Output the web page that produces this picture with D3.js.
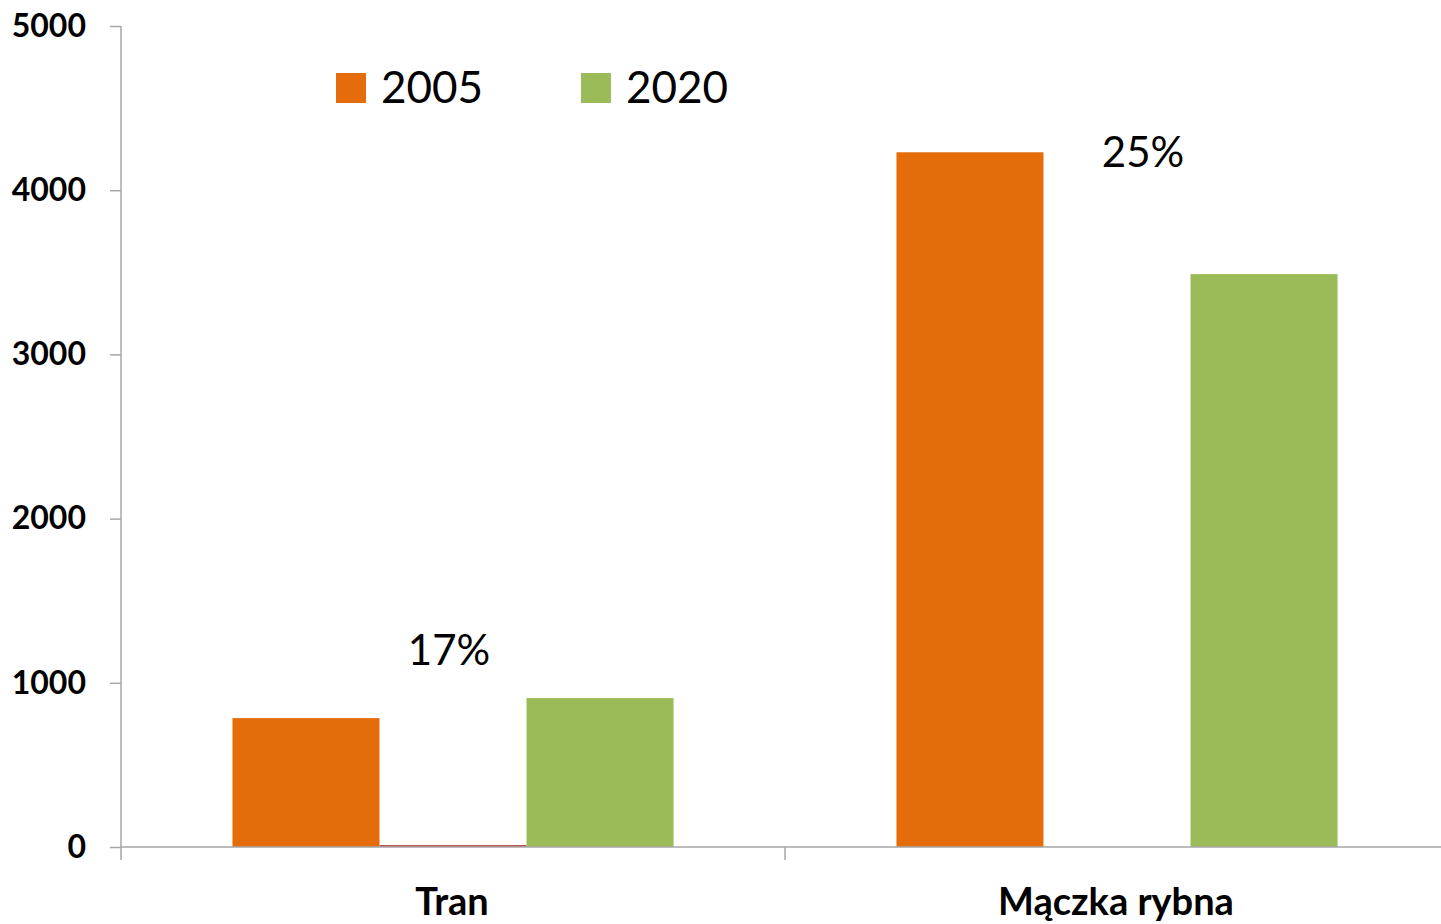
<!DOCTYPE html>
<html>
<head>
<meta charset="utf-8">
<script src="https://d3js.org/d3.v7.min.js"></script>
<style>
    body { margin: 0; background: #fff; }
    svg { display: block; font-family: Lato, "Open Sans", sans-serif; }
    .axis path, .axis line { stroke: #a6a6a6; stroke-width: 1.5px; }
    .axis text { fill: #000; }
</style>
</head>
<body>
<div id="chart"></div>
<script>
    // data
    var categories = ["Tran", "Mączka rybna"];
    var series = ["2005", "zmiana", "2020"];
    var values2005 = [785, 4231];
    var valuesChange = [12, 0];
    var values2020 = [907, 3489];
    var pctLabels = ["17%", "25%"];
    var pctLabelY = [1108, 4143];
    var yTicks = [0, 1000, 2000, 3000, 4000, 5000];

    var colors = { "2005": "#e46c0a", "zmiana": "#c0504d", "2020": "#9bbb59" };
    var legendItems = ["2005", "2020"];

    var width = 1441, height = 924;
    var margin = { top: 26, left: 121, bottom: 77 };

    var svg = d3.select("#chart").append("svg")
        .attr("width", width)
        .attr("height", height);

    var y = d3.scaleLinear()
        .domain([0, 5000])
        .range([height - margin.bottom, margin.top]);

    // second group is cut off at the right edge, like the original
    var x0 = d3.scaleBand()
        .domain(categories)
        .range([margin.left, margin.left + 664 * 2])
        .paddingInner(0).paddingOuter(0);

    var x1 = d3.scaleBand()
        .domain(series)
        .range([0, x0.bandwidth()])
        .paddingInner(0).paddingOuter(0.758);

    var rows = categories.map(function (c, i) {
        return { cat: c, vals: [values2005[i], valuesChange[i], values2020[i]] };
    });

    // bars
    var g = svg.selectAll("g.cat")
        .data(rows)
        .enter().append("g")
        .attr("class", "cat")
        .attr("transform", function (d) { return "translate(" + x0(d.cat) + ",0)"; });

    g.selectAll("rect")
        .data(function (d) { return d.vals.map(function (v, j) { return { s: series[j], v: v }; }); })
        .enter().append("rect")
        .attr("x", function (d) { return x1(d.s); })
        .attr("width", x1.bandwidth())
        .attr("y", function (d) { return y(d.v); })
        .attr("height", function (d) { return y(0) - y(d.v); })
        .attr("fill", function (d) { return colors[d.s]; });

    // y axis
    var yAxis = svg.append("g")
        .attr("class", "axis")
        .attr("transform", "translate(" + margin.left + ",0)")
        .call(d3.axisLeft(y).tickValues(yTicks).tickFormat(d3.format("d")).tickSize(11).tickPadding(24));
    yAxis.attr("font-family", null);
    yAxis.select(".domain").remove();
    yAxis.append("line")
        .attr("x1", 0).attr("x2", 0)
        .attr("y1", y(5000)).attr("y2", y(0) + 13)
        .attr("stroke", "#a6a6a6").attr("stroke-width", 1.5);
    yAxis.selectAll("text")
        .style("font-family", "Lato, sans-serif")
        .style("font-size", "32px")
        .style("font-weight", "bold");

    // x axis
    var xAxis = svg.append("g")
        .attr("class", "axis")
        .attr("transform", "translate(0," + y(0) + ")");
    xAxis.append("line")
        .attr("x1", margin.left).attr("x2", width)
        .attr("y1", 0).attr("y2", 0)
        .attr("stroke", "#a6a6a6").attr("stroke-width", 1.5);
    xAxis.selectAll("line.tick")
        .data(categories.slice(1))
        .enter().append("line")
        .attr("class", "tick")
        .attr("x1", function (d) { return x0(d); })
        .attr("x2", function (d) { return x0(d); })
        .attr("y1", 0).attr("y2", 13)
        .attr("stroke", "#a6a6a6").attr("stroke-width", 1.5);
    xAxis.selectAll("text")
        .data(categories)
        .enter().append("text")
        .attr("x", function (d) { return x0(d) + x1("zmiana") + x1.bandwidth() / 2 - 1; })
        .attr("y", 68)
        .attr("text-anchor", "middle")
        .style("font-size", "38px")
        .style("font-weight", "bold")
        .text(function (d) { return d; });

    // percent labels
    var pctDx = [-4, 26];
    svg.selectAll("text.pct")
        .data(categories)
        .enter().append("text")
        .attr("class", "pct")
        .attr("x", function (d, i) { return x0(d) + x1("zmiana") + x1.bandwidth() / 2 + pctDx[i]; })
        .attr("y", function (d, i) { return y(pctLabelY[i]); })
        .attr("text-anchor", "middle")
        .style("font-size", "42px")
        .text(function (d, i) { return pctLabels[i]; });

    // legend
    var legend = svg.selectAll("g.legend")
        .data(legendItems)
        .enter().append("g")
        .attr("class", "legend")
        .attr("transform", function (d, i) { return "translate(" + (336 + i * 245) + ",73)"; });
    legend.append("rect")
        .attr("width", 30).attr("height", 30)
        .attr("fill", function (d) { return colors[d]; });
    legend.append("text")
        .attr("x", 45).attr("y", 30)
        .style("font-size", "44px")
        .text(function (d) { return d; });
</script>
</body>
</html>
